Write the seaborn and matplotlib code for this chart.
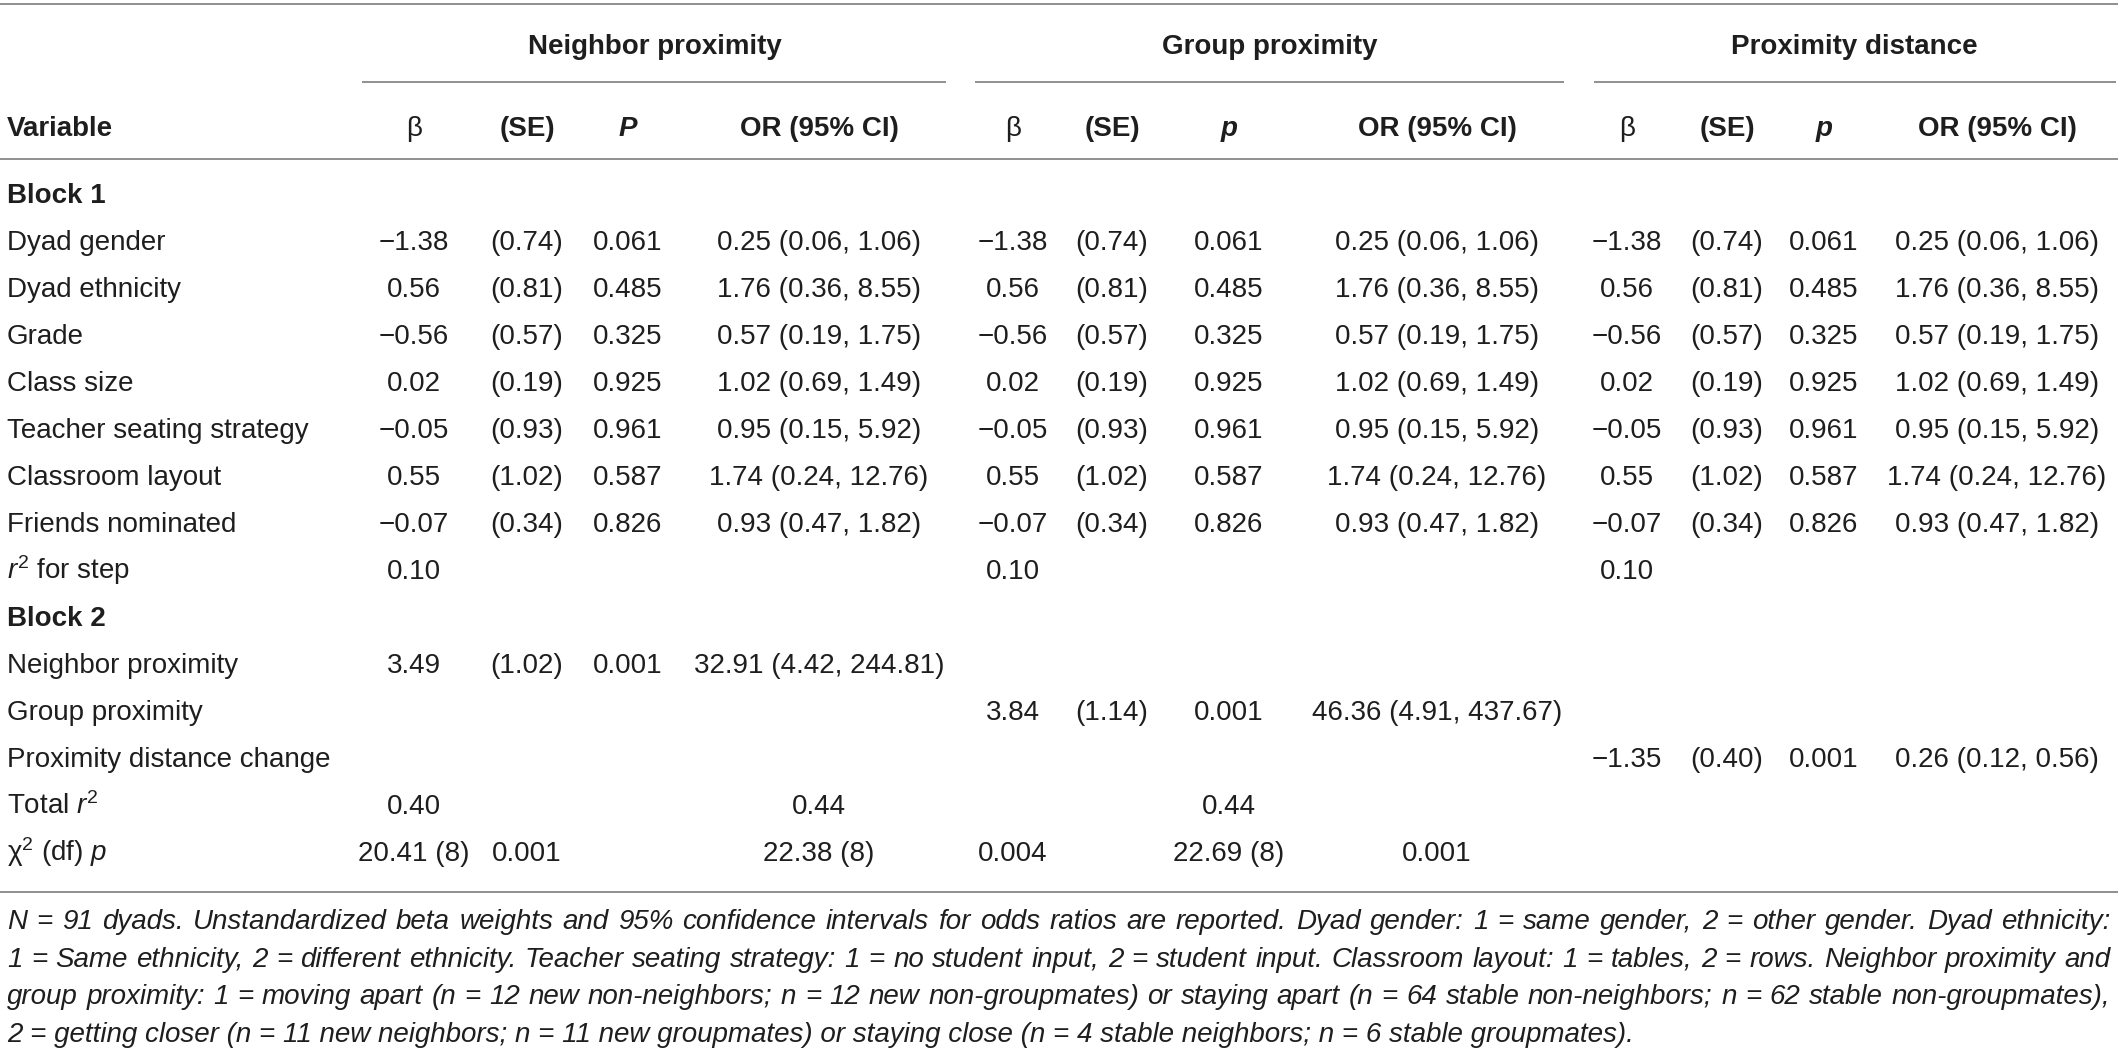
import matplotlib
matplotlib.use("Agg")
import matplotlib.pyplot as plt
import seaborn as sns
import numpy as np
import pandas as pd

# ---------------- data ----------------
group_titles = ["Neighbor proximity", "Group proximity", "Proximity distance"]
stat_headers = ["β", "(SE)", "P", "OR (95% CI)"]
p_letters = ["P", "p", "p"]

block1_labels = ["Dyad gender", "Dyad ethnicity", "Grade", "Class size",
                 "Teacher seating strategy", "Classroom layout", "Friends nominated"]
block1_beta = ["\u22121.38", "0.56", "\u22120.56", "0.02", "\u22120.05", "0.55", "\u22120.07"]
block1_se = ["(0.74)", "(0.81)", "(0.57)", "(0.19)", "(0.93)", "(1.02)", "(0.34)"]
block1_p = ["0.061", "0.485", "0.325", "0.925", "0.961", "0.587", "0.826"]
block1_or = ["0.25 (0.06, 1.06)", "1.76 (0.36, 8.55)", "0.57 (0.19, 1.75)",
             "1.02 (0.69, 1.49)", "0.95 (0.15, 5.92)", "1.74 (0.24, 12.76)",
             "0.93 (0.47, 1.82)"]
r2_step = ["0.10", "0.10", "0.10"]

block2_labels = ["Neighbor proximity", "Group proximity", "Proximity distance change"]
block2_beta = ["3.49", "3.84", "\u22121.35"]
block2_se = ["(1.02)", "(1.14)", "(0.40)"]
block2_p = ["0.001", "0.001", "0.001"]
block2_or = ["32.91 (4.42, 244.81)", "46.36 (4.91, 437.67)", "0.26 (0.12, 0.56)"]

total_r2 = ["0.40", "0.44", "0.44"]
chi_values = ["20.41 (8)", "0.001", "22.38 (8)", "0.004", "22.69 (8)", "0.001"]

footnote_lines = [
    "N = 91 dyads. Unstandardized beta weights and 95% confidence intervals for odds ratios are reported. Dyad gender: 1 = same gender, 2 = other gender. Dyad ethnicity:",
    "1 = Same ethnicity, 2 = different ethnicity. Teacher seating strategy: 1 = no student input, 2 = student input. Classroom layout: 1 = tables, 2 = rows. Neighbor proximity and",
    "group proximity: 1 = moving apart (n = 12 new non-neighbors; n = 12 new non-groupmates) or staying apart (n = 64 stable non-neighbors; n = 62 stable non-groupmates),",
    "2 = getting closer (n = 11 new neighbors; n = 11 new groupmates) or staying close (n = 4 stable neighbors; n = 6 stable groupmates).",
]

# ---------------- layout / style ----------------
W, H = 2118, 1053
col_x = [414, 527, 628, 819, 1013, 1112, 1229, 1437, 1627, 1727, 1824, 1997]
group_center = [655, 1270, 1854]
group_rule = [(362, 946), (975, 1564), (1594, 2116)]
total_cols = [0, 3, 6]
chi_cols = [0, 1, 3, 4, 6, 7]
y_h1, y_sub, y_h2, y_rule1 = 44, 82, 126, 159
y_first, row_step = 193, 47.0
y_rule2 = 892
y_foot0, foot_step = 921, 37.7
left_x, right_x = 7, 2110
FS = 20.0
BASE = 10  # baseline offset from visual centre (px)
TXT = "#1e1e1e"
RULE = "#8f8f8f"

sns.set_theme(style="white")
plt.rcParams["font.family"] = ["Liberation Sans", "DejaVu Sans"]
plt.rcParams["mathtext.fontset"] = "custom"
plt.rcParams["mathtext.rm"] = "Liberation Sans"
plt.rcParams["mathtext.it"] = "Liberation Sans:italic"
plt.rcParams["mathtext.bf"] = "Liberation Sans:bold"

fig = plt.figure(figsize=(W / 100, H / 100), dpi=100)
ax = fig.add_axes([0, 0, 1, 1])
ax.set_xlim(0, W)
ax.set_ylim(H, 0)
ax.axis("off")


def put(x, y, s, ha="center", **kw):
    kw.setdefault("fontsize", FS)
    kw.setdefault("color", TXT)
    ax.text(x, y + BASE, s, ha=ha, va="baseline", **kw)


# rules
ax.hlines([4, y_rule1, y_rule2], 0, W, color=RULE, lw=1.4)
for (a, b) in group_rule:
    ax.hlines(y_sub, a, b, color=RULE, lw=1.4)

# headers
for g, title in enumerate(group_titles):
    put(group_center[g], y_h1, title, fontweight="bold")
    for k, h in enumerate(stat_headers):
        x = col_x[g * 4 + k]
        if k == 0:
            put(x, y_h2, h)
        elif k == 2:
            put(x, y_h2, p_letters[g], fontweight="bold", fontstyle="italic")
        else:
            put(x, y_h2, h, fontweight="bold")
put(left_x, y_h2, "Variable", ha="left", fontweight="bold")

rows_y = [y_first + i * row_step for i in range(15)]

# Block 1
put(left_x, rows_y[0], "Block 1", ha="left", fontweight="bold")
for i, lab in enumerate(block1_labels):
    y = rows_y[1 + i]
    put(left_x, y, lab, ha="left")
    for g in range(3):
        put(col_x[g * 4 + 0], y, block1_beta[i])
        put(col_x[g * 4 + 1], y, block1_se[i])
        put(col_x[g * 4 + 2], y, block1_p[i])
        put(col_x[g * 4 + 3], y, block1_or[i])
y = rows_y[8]
put(left_x, y, "$r^{2}$ for step", ha="left")
for g in range(3):
    put(col_x[g * 4], y, r2_step[g])

# Block 2
put(left_x, rows_y[9], "Block 2", ha="left", fontweight="bold")
for i, lab in enumerate(block2_labels):
    y = rows_y[10 + i]
    put(left_x, y, lab, ha="left")
    put(col_x[i * 4 + 0], y, block2_beta[i])
    put(col_x[i * 4 + 1], y, block2_se[i])
    put(col_x[i * 4 + 2], y, block2_p[i])
    put(col_x[i * 4 + 3], y, block2_or[i])

y = rows_y[13]
put(left_x, y, "Total $r^{2}$", ha="left")
for v, c in zip(total_r2, total_cols):
    put(col_x[c], y, v)

y = rows_y[14]
put(left_x, y, "\u03c7$^{2}$ (df) $p$", ha="left")
for v, c in zip(chi_values, chi_cols):
    put(col_x[c], y, v)

# footnote (justified italic)
fig.canvas.draw()
renderer = fig.canvas.get_renderer()


def width_of(s, fs):
    t = ax.text(0, 0, s, fontsize=fs, fontstyle="italic")
    w = t.get_window_extent(renderer).width
    t.remove()
    return w


ref_w = width_of(footnote_lines[1], 10)
foot_fs = 10 * (right_x - left_x - 6) / ref_w
for li, line in enumerate(footnote_lines):
    y = y_foot0 + li * foot_step + 8
    if li < 3:
        words = line.split(" ")
        ws = [width_of(w, foot_fs) for w in words]
        gap = (right_x - left_x - sum(ws)) / (len(words) - 1)
        x = left_x
        for w, wd in zip(words, ws):
            ax.text(x, y, w, fontsize=foot_fs, fontstyle="italic", color=TXT,
                    ha="left", va="baseline")
            x += wd + gap
    else:
        ax.text(left_x, y, line, fontsize=foot_fs, fontstyle="italic", color=TXT,
                ha="left", va="baseline")

fig.savefig("out.png", dpi=100, facecolor="white")
